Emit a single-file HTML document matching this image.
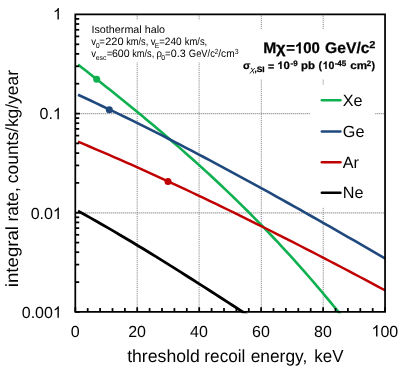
<!DOCTYPE html>
<html><head><meta charset="utf-8"><title>plot</title>
<style>
html,body{margin:0;padding:0;background:#fff;}
body{width:404px;height:377px;overflow:hidden;}
svg{display:block;font-family:"Liberation Sans",sans-serif;text-rendering:geometricPrecision;}
.tx{opacity:0.999;}
</style></head><body>
<svg width="404" height="377" viewBox="0 0 404 377">
<rect width="404" height="377" fill="#fff"/>
<defs><clipPath id="pa"><rect x="75.3" y="14.4" width="309.75" height="298.75"/></clipPath></defs>
<g stroke="#7c7c7c" stroke-width="1" stroke-dasharray="0.96 0.96" fill="none"><line x1="137.2" y1="14.4" x2="137.2" y2="311.95"/><line x1="199.1" y1="14.4" x2="199.1" y2="311.95"/><line x1="261.3" y1="14.4" x2="261.3" y2="311.95"/><line x1="323.2" y1="14.4" x2="323.2" y2="311.95"/></g>
<g stroke="#808080" stroke-width="1.3" stroke-dasharray="1 1" fill="none"><line x1="75.3" y1="113.7" x2="385.05" y2="113.7"/><line x1="75.3" y1="212.9" x2="385.05" y2="212.9"/></g>
<rect x="88" y="20.2" width="156" height="42" fill="#fff"/>
<rect x="240" y="29.3" width="138" height="49.7" fill="#fff"/>
<rect x="310.1" y="84.9" width="65" height="122.7" fill="#fff"/>
<g clip-path="url(#pa)">
<path d="M78.00,64.58 L82.00,67.71 L86.00,70.85 L90.00,73.99 L94.00,77.14 L98.00,80.30 L102.00,83.48 L106.00,86.66 L110.00,89.85 L114.00,93.05 L118.00,96.26 L122.00,99.49 L126.00,102.73 L130.00,105.99 L134.00,109.26 L138.00,112.54 L142.00,115.84 L146.00,119.16 L150.00,122.49 L154.00,125.85 L158.00,129.22 L162.00,132.61 L166.00,136.02 L170.00,139.45 L174.00,142.91 L178.00,146.38 L182.00,149.88 L186.00,153.41 L190.00,156.95 L194.00,160.52 L198.00,164.12 L202.00,167.74 L206.00,171.39 L210.00,175.07 L214.00,178.78 L218.00,182.51 L222.00,186.28 L226.00,190.07 L230.00,193.90 L234.00,197.76 L238.00,201.65 L242.00,205.57 L246.00,209.53 L250.00,213.52 L254.00,217.55 L258.00,221.61 L262.00,225.71 L266.00,229.84 L270.00,234.02 L274.00,238.23 L278.00,242.48 L282.00,246.77 L286.00,251.10 L290.00,255.47 L294.00,259.89 L298.00,264.34 L302.00,268.84 L306.00,273.39 L310.00,277.98 L314.00,282.61 L318.00,287.29 L322.00,292.02 L326.00,296.79 L330.00,301.61 L334.00,306.48 L338.00,311.40 L342.00,316.37" fill="none" stroke="#0fb050" stroke-width="2.6" stroke-linejoin="round" stroke-linecap="butt"/>
<circle cx="96.7" cy="79.3" r="3.5" fill="#0fb050"/>
<path d="M78.00,94.75 L84.00,97.51 L90.00,100.30 L96.00,103.11 L102.00,105.95 L108.00,108.80 L114.00,111.68 L120.00,114.58 L126.00,117.50 L132.00,120.45 L138.00,123.41 L144.00,126.39 L150.00,129.39 L156.00,132.41 L162.00,135.45 L168.00,138.51 L174.00,141.59 L180.00,144.68 L186.00,147.79 L192.00,150.92 L198.00,154.07 L204.00,157.23 L210.00,160.41 L216.00,163.60 L222.00,166.81 L228.00,170.03 L234.00,173.27 L240.00,176.52 L246.00,179.79 L252.00,183.06 L258.00,186.36 L264.00,189.66 L270.00,192.98 L276.00,196.30 L282.00,199.64 L288.00,202.99 L294.00,206.35 L300.00,209.73 L306.00,213.11 L312.00,216.50 L318.00,219.90 L324.00,223.31 L330.00,226.72 L336.00,230.15 L342.00,233.58 L348.00,237.02 L354.00,240.47 L360.00,243.93 L366.00,247.39 L372.00,250.85 L378.00,254.32 L384.00,257.80 L388.00,260.12" fill="none" stroke="#1f497d" stroke-width="2.6" stroke-linejoin="round" stroke-linecap="butt"/>
<circle cx="109.3" cy="109.7" r="3.5" fill="#1f497d"/>
<path d="M78.00,141.71 L84.00,144.22 L90.00,146.75 L96.00,149.30 L102.00,151.87 L108.00,154.46 L114.00,157.06 L120.00,159.68 L126.00,162.32 L132.00,164.98 L138.00,167.66 L144.00,170.35 L150.00,173.06 L156.00,175.79 L162.00,178.53 L168.00,181.29 L174.00,184.07 L180.00,186.86 L186.00,189.67 L192.00,192.49 L198.00,195.33 L204.00,198.19 L210.00,201.06 L216.00,203.94 L222.00,206.84 L228.00,209.75 L234.00,212.68 L240.00,215.62 L246.00,218.58 L252.00,221.54 L258.00,224.53 L264.00,227.52 L270.00,230.53 L276.00,233.55 L282.00,236.58 L288.00,239.62 L294.00,242.68 L300.00,245.74 L306.00,248.82 L312.00,251.91 L318.00,255.01 L324.00,258.13 L330.00,261.25 L336.00,264.38 L342.00,267.52 L348.00,270.68 L354.00,273.84 L360.00,277.01 L366.00,280.19 L372.00,283.38 L378.00,286.58 L384.00,289.79 L388.00,291.93" fill="none" stroke="#c00000" stroke-width="2.45" stroke-linejoin="round" stroke-linecap="butt"/>
<circle cx="168" cy="181.5" r="3.5" fill="#c00000"/>
<path d="M78.00,211.01 L84.00,214.31 L90.00,217.65 L96.00,221.03 L102.00,224.45 L108.00,227.90 L114.00,231.39 L120.00,234.92 L126.00,238.47 L132.00,242.06 L138.00,245.68 L144.00,249.32 L150.00,252.99 L156.00,256.68 L162.00,260.40 L168.00,264.14 L174.00,267.89 L180.00,271.67 L186.00,275.46 L192.00,279.27 L198.00,283.09 L204.00,286.92 L210.00,290.76 L216.00,294.62 L222.00,298.48 L228.00,302.34 L234.00,306.21 L240.00,310.08 L246.00,313.96 L250.00,316.54" fill="none" stroke="#000" stroke-width="2.8" stroke-linejoin="round" stroke-linecap="butt"/>
</g>
<g stroke="#000" stroke-width="1.75" fill="none"><path d="M75.3,14.4 H385.05 V311.95 H75.3 Z"/><line x1="75.3" y1="311.95" x2="75.3" y2="307.25"/><line x1="87.7" y1="311.95" x2="87.7" y2="308.05"/><line x1="100.1" y1="311.95" x2="100.1" y2="308.05"/><line x1="112.5" y1="311.95" x2="112.5" y2="308.05"/><line x1="124.9" y1="311.95" x2="124.9" y2="308.05"/><line x1="137.2" y1="311.95" x2="137.2" y2="307.25"/><line x1="149.6" y1="311.95" x2="149.6" y2="308.05"/><line x1="162.0" y1="311.95" x2="162.0" y2="308.05"/><line x1="174.4" y1="311.95" x2="174.4" y2="308.05"/><line x1="186.8" y1="311.95" x2="186.8" y2="308.05"/><line x1="199.2" y1="311.95" x2="199.2" y2="307.25"/><line x1="211.6" y1="311.95" x2="211.6" y2="308.05"/><line x1="224.0" y1="311.95" x2="224.0" y2="308.05"/><line x1="236.4" y1="311.95" x2="236.4" y2="308.05"/><line x1="248.8" y1="311.95" x2="248.8" y2="308.05"/><line x1="261.1" y1="311.95" x2="261.1" y2="307.25"/><line x1="273.5" y1="311.95" x2="273.5" y2="308.05"/><line x1="285.9" y1="311.95" x2="285.9" y2="308.05"/><line x1="298.3" y1="311.95" x2="298.3" y2="308.05"/><line x1="310.7" y1="311.95" x2="310.7" y2="308.05"/><line x1="323.1" y1="311.95" x2="323.1" y2="307.25"/><line x1="335.5" y1="311.95" x2="335.5" y2="308.05"/><line x1="347.9" y1="311.95" x2="347.9" y2="308.05"/><line x1="360.3" y1="311.95" x2="360.3" y2="308.05"/><line x1="372.7" y1="311.95" x2="372.7" y2="308.05"/><line x1="385.1" y1="311.95" x2="385.1" y2="307.25"/><line x1="75.3" y1="113.6" x2="80.0" y2="113.6"/><line x1="75.3" y1="83.7" x2="79.2" y2="83.7"/><line x1="75.3" y1="66.3" x2="79.2" y2="66.3"/><line x1="75.3" y1="53.9" x2="79.2" y2="53.9"/><line x1="75.3" y1="44.3" x2="79.2" y2="44.3"/><line x1="75.3" y1="36.4" x2="79.2" y2="36.4"/><line x1="75.3" y1="29.8" x2="79.2" y2="29.8"/><line x1="75.3" y1="24.0" x2="79.2" y2="24.0"/><line x1="75.3" y1="18.9" x2="79.2" y2="18.9"/><line x1="75.3" y1="212.8" x2="80.0" y2="212.8"/><line x1="75.3" y1="182.9" x2="79.2" y2="182.9"/><line x1="75.3" y1="165.4" x2="79.2" y2="165.4"/><line x1="75.3" y1="153.1" x2="79.2" y2="153.1"/><line x1="75.3" y1="143.4" x2="79.2" y2="143.4"/><line x1="75.3" y1="135.6" x2="79.2" y2="135.6"/><line x1="75.3" y1="128.9" x2="79.2" y2="128.9"/><line x1="75.3" y1="123.2" x2="79.2" y2="123.2"/><line x1="75.3" y1="118.1" x2="79.2" y2="118.1"/><line x1="75.3" y1="311.9" x2="80.0" y2="311.9"/><line x1="75.3" y1="282.1" x2="79.2" y2="282.1"/><line x1="75.3" y1="264.6" x2="79.2" y2="264.6"/><line x1="75.3" y1="252.2" x2="79.2" y2="252.2"/><line x1="75.3" y1="242.6" x2="79.2" y2="242.6"/><line x1="75.3" y1="234.8" x2="79.2" y2="234.8"/><line x1="75.3" y1="228.1" x2="79.2" y2="228.1"/><line x1="75.3" y1="222.4" x2="79.2" y2="222.4"/><line x1="75.3" y1="217.3" x2="79.2" y2="217.3"/></g>
<g class="tx">
<g fill="#000">
<g transform="translate(52.90,19.60)"><path transform="translate(0.00,0) scale(0.00781,-0.00781)" d="M763 0H583V1147Q518 1085 412.5 1023Q307 961 223 930V1104Q374 1175 487 1276Q600 1377 647 1472H763Z"/></g>
<g transform="translate(39.56,119.30)"><text x="0.00" y="0" font-size="16" xml:space="preserve">0.</text><path transform="translate(13.34,0) scale(0.00781,-0.00781)" d="M763 0H583V1147Q518 1085 412.5 1023Q307 961 223 930V1104Q374 1175 487 1276Q600 1377 647 1472H763Z"/></g>
<g transform="translate(30.66,218.90)"><text x="0.00" y="0" font-size="16" xml:space="preserve">0.0</text><path transform="translate(22.24,0) scale(0.00781,-0.00781)" d="M763 0H583V1147Q518 1085 412.5 1023Q307 961 223 930V1104Q374 1175 487 1276Q600 1377 647 1472H763Z"/></g>
<g transform="translate(21.76,317.80)"><text x="0.00" y="0" font-size="16" xml:space="preserve">0.00</text><path transform="translate(31.14,0) scale(0.00781,-0.00781)" d="M763 0H583V1147Q518 1085 412.5 1023Q307 961 223 930V1104Q374 1175 487 1276Q600 1377 647 1472H763Z"/></g>
<g transform="translate(70.65,336.50)"><text x="0.00" y="0" font-size="16" xml:space="preserve">0</text></g>
<g transform="translate(128.15,336.50)"><text x="0.00" y="0" font-size="16" xml:space="preserve">20</text></g>
<g transform="translate(190.10,336.50)"><text x="0.00" y="0" font-size="16" xml:space="preserve">40</text></g>
<g transform="translate(252.05,336.50)"><text x="0.00" y="0" font-size="16" xml:space="preserve">60</text></g>
<g transform="translate(314.00,336.50)"><text x="0.00" y="0" font-size="16" xml:space="preserve">80</text></g>
<g transform="translate(371.50,336.50)"><path transform="translate(0.00,0) scale(0.00781,-0.00781)" d="M763 0H583V1147Q518 1085 412.5 1023Q307 961 223 930V1104Q374 1175 487 1276Q600 1377 647 1472H763Z"/><text x="8.90" y="0" font-size="16" xml:space="preserve">00</text></g>
</g>
<g transform="translate(127.13,362.00) scale(1.004,1)"><text x="0.00" y="0" font-size="17.6" xml:space="preserve">threshold</text></g>
<g transform="translate(204.37,362.00) scale(0.976,1)"><text x="0.00" y="0" font-size="17.6" xml:space="preserve">recoil</text></g>
<g transform="translate(250.67,362.00) scale(0.986,1)"><text x="0.00" y="0" font-size="17.6" xml:space="preserve">energy,</text></g>
<g transform="translate(314.36,362.00) scale(0.963,1)"><text x="0.00" y="0" font-size="17.6" xml:space="preserve">keV</text></g>
<text transform="translate(17.5,287.13) rotate(-90) scale(1.058,1)" font-size="17.6">integral</text>
<text transform="translate(17.5,221.43) rotate(-90) scale(0.970,1)" font-size="17.6">rate,</text>
<text transform="translate(17.5,183.13) rotate(-90) scale(0.988,1)" font-size="17.6">counts/kg/year</text>
<g fill="#000"><g transform="translate(91.51,33.10) scale(1.009,1)"><text x="0.00" y="0" font-size="10.67" xml:space="preserve">Isothermal halo</text></g>
<g transform="translate(91.25,45.10) scale(0.900,1)"><text x="0.00" y="0" font-size="10.67" xml:space="preserve">v</text></g>
<g transform="translate(95.67,47.60) scale(1.014,1)"><text x="0.00" y="0" font-size="7.0" xml:space="preserve">0</text></g>
<g transform="translate(99.35,45.10) scale(0.900,1)"><text x="0.00" y="0" font-size="10.67" xml:space="preserve">=</text></g>
<g transform="translate(105.25,45.10) scale(1.032,1)"><text x="0.00" y="0" font-size="10.67" xml:space="preserve">220</text></g>
<g transform="translate(126.18,45.10) scale(0.865,1)"><text x="0.00" y="0" font-size="10.67" xml:space="preserve">km/s,</text></g>
<g transform="translate(150.65,45.10) scale(0.900,1)"><text x="0.00" y="0" font-size="10.67" xml:space="preserve">v</text></g>
<g transform="translate(154.85,47.60) scale(0.950,1)"><text x="0.00" y="0" font-size="7.0" xml:space="preserve">E</text></g>
<g transform="translate(159.20,45.10) scale(0.900,1)"><text x="0.00" y="0" font-size="10.67" xml:space="preserve">=</text></g>
<g transform="translate(164.79,45.10) scale(0.949,1)"><text x="0.00" y="0" font-size="10.67" xml:space="preserve">240</text></g>
<g transform="translate(184.67,45.10) scale(0.886,1)"><text x="0.00" y="0" font-size="10.67" xml:space="preserve">km/s,</text></g>
<g transform="translate(91.25,57.40) scale(0.900,1)"><text x="0.00" y="0" font-size="10.67" xml:space="preserve">v</text></g>
<g transform="translate(95.66,59.90) scale(0.984,1)"><text x="0.00" y="0" font-size="7.0" xml:space="preserve">esc</text></g>
<g transform="translate(106.65,57.40) scale(0.900,1)"><text x="0.00" y="0" font-size="10.67" xml:space="preserve">=</text></g>
<g transform="translate(111.97,57.40) scale(0.991,1)"><text x="0.00" y="0" font-size="10.67" xml:space="preserve">600</text></g>
<g transform="translate(132.18,57.40) scale(0.865,1)"><text x="0.00" y="0" font-size="10.67" xml:space="preserve">km/s,</text></g>
<g transform="translate(156.55,57.40) scale(0.900,1)"><text x="0.00" y="0" font-size="10.67" xml:space="preserve">ρ</text></g>
<g transform="translate(161.32,59.90) scale(1.014,1)"><text x="0.00" y="0" font-size="7.0" xml:space="preserve">0</text></g>
<g transform="translate(164.95,57.40) scale(0.900,1)"><text x="0.00" y="0" font-size="10.67" xml:space="preserve">=</text></g>
<g transform="translate(170.78,57.40) scale(1.010,1)"><text x="0.00" y="0" font-size="10.67" xml:space="preserve">0.3</text></g>
<g transform="translate(188.83,57.40) scale(0.881,1)"><text x="0.00" y="0" font-size="10.67" xml:space="preserve">GeV/c</text></g>
<g transform="translate(214.78,53.80) scale(0.859,1)"><text x="0.00" y="0" font-size="7.4" xml:space="preserve">2</text></g>
<g transform="translate(218.30,57.40) scale(0.952,1)"><text x="0.00" y="0" font-size="10.67" xml:space="preserve">/cm</text></g>
<g transform="translate(234.64,53.80) scale(0.939,1)"><text x="0.00" y="0" font-size="7.4" xml:space="preserve">3</text></g></g>
<g fill="#000" stroke="#000" stroke-width="0.25"><g transform="translate(263.36,53.40) scale(1.019,1)"><text x="0.00" y="0" font-size="15.4" font-weight="bold" xml:space="preserve">M</text></g>
<g transform="translate(275.90,53.40) scale(1.080,1)"><text x="0.00" y="0" font-size="15.4" font-weight="bold" xml:space="preserve">χ</text></g>
<g transform="translate(286.19,53.40) scale(0.972,1)"><text x="0.00" y="0" font-size="15.4" font-weight="bold" xml:space="preserve">=</text><path transform="translate(8.99,0) scale(0.00752,-0.00752)" d="M806 0H525V1059Q371 915 162 846V1101Q272 1137 401 1237.5Q530 1338 578 1472H806Z"/><text x="17.56" y="0" font-size="15.4" font-weight="bold" xml:space="preserve">00</text></g>
<g transform="translate(325.06,53.40) scale(1.017,1)"><text x="0.00" y="0" font-size="15.4" font-weight="bold" xml:space="preserve">GeV/c</text></g>
<g transform="translate(369.33,48.40) scale(1.097,1)"><text x="0.00" y="0" font-size="10" font-weight="bold" xml:space="preserve">2</text></g>
<g transform="translate(243.04,69.00) scale(1.000,1)"><text x="0.00" y="0" font-size="10.67" font-weight="bold" xml:space="preserve">σ</text></g>
<g transform="translate(249.90,72.00) scale(1.221,1)" font-style="italic" stroke="none"><text x="0.00" y="0" font-size="7.8" xml:space="preserve">χ</text></g>
<g transform="translate(254.42,72.00) scale(1.000,1)"><text x="0.00" y="0" font-size="7.8" font-weight="bold" xml:space="preserve">,</text></g>
<g transform="translate(256.66,72.00) scale(1.086,1)"><text x="0.00" y="0" font-size="7.8" font-weight="bold" xml:space="preserve">SI</text></g>
<g transform="translate(268.08,69.70) scale(1.000,1)"><text x="0.00" y="0" font-size="10.67" font-weight="bold" xml:space="preserve">=</text></g>
<g transform="translate(277.20,69.00) scale(1.066,1)"><path transform="translate(0.00,0) scale(0.00521,-0.00521)" d="M806 0H525V1059Q371 915 162 846V1101Q272 1137 401 1237.5Q530 1338 578 1472H806Z"/><text x="5.93" y="0" font-size="10.67" font-weight="bold" xml:space="preserve">0</text></g>
<g transform="translate(290.49,65.90) scale(1.011,1)"><text x="0.00" y="0" font-size="7.9" font-weight="bold" xml:space="preserve">-9</text></g>
<g transform="translate(300.96,69.00) scale(1.067,1)"><text x="0.00" y="0" font-size="10.67" font-weight="bold" xml:space="preserve">pb</text></g>
<g transform="translate(318.52,69.00) scale(1.000,1)"><text x="0.00" y="0" font-size="10.67" font-weight="bold" xml:space="preserve">(</text></g>
<g transform="translate(322.56,69.00) scale(0.991,1)"><path transform="translate(0.00,0) scale(0.00521,-0.00521)" d="M806 0H525V1059Q371 915 162 846V1101Q272 1137 401 1237.5Q530 1338 578 1472H806Z"/><text x="5.93" y="0" font-size="10.67" font-weight="bold" xml:space="preserve">0</text></g>
<g transform="translate(334.69,65.90) scale(1.019,1)"><text x="0.00" y="0" font-size="7.9" font-weight="bold" xml:space="preserve">-45</text></g>
<g transform="translate(350.34,69.00) scale(1.094,1)"><text x="0.00" y="0" font-size="10.67" font-weight="bold" xml:space="preserve">cm</text></g>
<g transform="translate(366.77,65.90) scale(1.000,1)"><text x="0.00" y="0" font-size="7.9" font-weight="bold" xml:space="preserve">2</text></g>
<g transform="translate(371.43,69.00) scale(1.000,1)"><text x="0.00" y="0" font-size="10.67" font-weight="bold" xml:space="preserve">)</text></g></g>
<text x="342.8" y="105.6" font-size="16.2">Xe</text>
<text x="342.8" y="136.9" font-size="16.2">Ge</text>
<text x="342.8" y="167.6" font-size="16.2">Ar</text>
<text x="342.8" y="198.1" font-size="16.2">Ne</text>
</g>
<line x1="321.8" y1="100.2" x2="340.5" y2="100.2" stroke="#0fb050" stroke-width="2.4" stroke-linecap="round"/>
<line x1="321.8" y1="131.5" x2="340.5" y2="131.5" stroke="#1f497d" stroke-width="2.4" stroke-linecap="round"/>
<line x1="321.8" y1="162.2" x2="340.5" y2="162.2" stroke="#c00000" stroke-width="2.4" stroke-linecap="round"/>
<line x1="321.8" y1="192.7" x2="340.5" y2="192.7" stroke="#000" stroke-width="2.4" stroke-linecap="round"/>
</svg></body></html>
